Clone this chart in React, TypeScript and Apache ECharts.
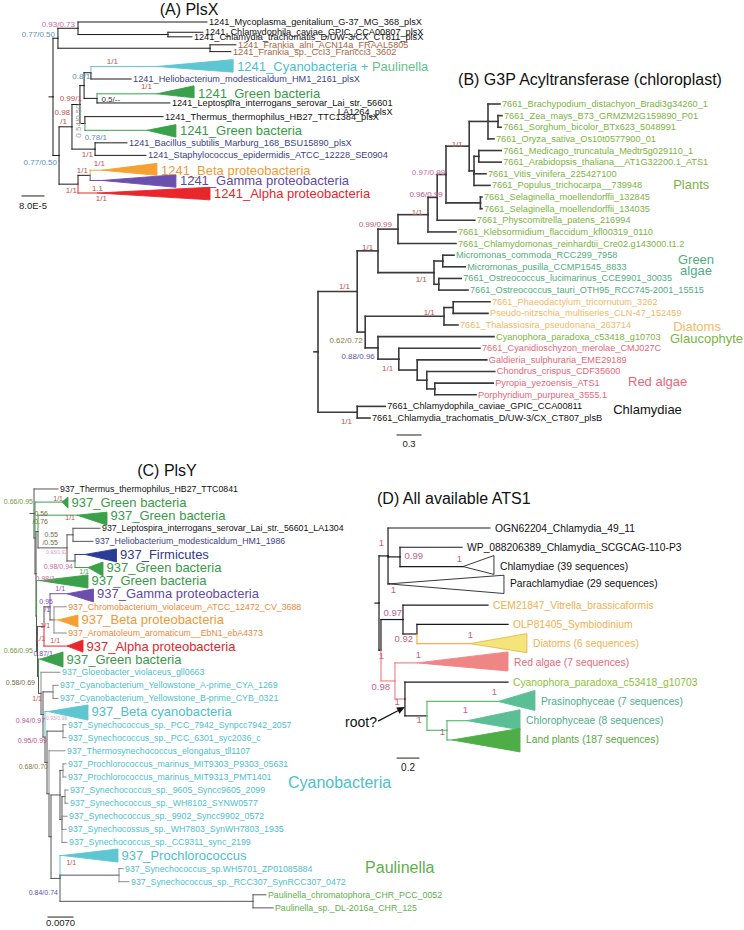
import React, { useEffect, useRef } from "react";
import * as echarts from "echarts";

const FONT = '"Liberation Sans", Arial, Helvetica, sans-serif';

type TNode = { name?: string; d: number; row?: number; kids?: TNode[]; g?: string; tri?: number[]; name2?: string; g2?: string };
const N = (d: number, kids: TNode[], g?: string): TNode => ({ d, kids, g });
const L = (name: string, d: number, row: number, g?: string): TNode => ({ name, d, row, g });
const T = (name: string, d: number, row: number, tri: number[], g?: string): TNode => ({ name, d, row, tri, g });

// ---------- (A) PlsX : depth in 1e-5 subst./site, row = leaf slot ----------
const plsxTree: TNode = N(0, [
  N(1.8, [
    N(9.1, [
      L("1241_Mycoplasma_genitalium_G-37_MG_368_plsX", 56.0, 0),
      N(41.8, [
        L("1241_Chlamydophila_caviae_GPIC_CCA00807_plsX", 54.5, 0.9),
        L("1241_Chlamydia_trachomatis_D/UW-3/CX_CT811_plsX", 50.5, 1.3),
      ]),
    ]),
    N(57.1, [
      L("1241_Frankia_alni_ACN14a_FRAAL5805", 66.5, 2.0, "brown"),
      L("1241_Frankia_sp._CcI3_Francci3_3602", 64.7, 2.6, "brown"),
    ]),
  ]),
  N(2.2, [
    N(6.9, [
      N(9.8, [
        N(11.3, [
          N(13.8, [
            { ...T("1241_Cyanobacteria + |Paulinella", 37.8, 3.9, [65.5, -0.6, 0.5], "cyan"), g2: "paulA" },
            L("1241_Heliobacterium_modesticaldum_HM1_2161_plsX", 28.4, 5.0, "navyT"),
          ]),
          N(16.0, [
            T("1241_Green bacteria", 37.8, 6.3, [51.3, -0.7, 0.35], "green"),
            { ...L("1241_Leptospira_interrogans_serovar_Lai_str._56601", 42.5, 7.1), name2: "LA1264_plsX" },
          ]),
        ]),
        N(11.6, [
          L("1241_Thermus_thermophilus_HB27_TTC1384_plsX", 40.0, 8.3),
          T("1241_Green bacteria", 34.2, 9.5, [44.7, -0.5, 0.6], "green"),
        ]),
      ]),
      N(15.3, [
        L("1241_Bacillus_subtilis_Marburg_168_BSU15890_plsX", 26.9, 10.6, "navyT"),
        L("1241_Staphylococcus_epidermidis_ATCC_12228_SE0904", 33.8, 11.7, "navyT"),
      ]),
    ]),
    N(9.1, [
      N(13.5, [
        T("1241_Beta proteobacteria", 17.8, 13.0, [37.8, -0.6, 0.45], "orange"),
        T("1241_Gamma proteobacteria", 17.8, 13.9, [44.7, -0.5, 0.6], "purple"),
      ]),
      T("1241_Alpha proteobacteria", 16.0, 15.0, [57.1, -0.5, 0.6], "red"),
    ]),
  ]),
]);

const plsxSupport: any[] = [
  ["0.93/0.73", 8.0, 0.18, "pink"],
  ["0.77/0.50", 0.73, 1.14, "blue"],
  ["1/1", 23.6, 3.5, "red"],
  ["0.8/1", 13.5, 4.82, "blue"],
  ["1/1", 36.0, 5.7, "red"],
  ["0.99/1", 10.5, 6.75, "red"],
  ["0.5/--", 24.4, 6.84, "dark"],
  ["0.98", 6.2, 7.98, "red"],
  ["/1", 5.1, 8.77, "red"],
  ["0.54/0.50", 9.1, 8.68, "gray", 90],
  ["0.78/1", 19.6, 10.1, "blue"],
  ["1/1", 14.5, 11.6, "red"],
  ["0.77/0.50", 1.45, 12.3, "blue"],
  ["1/1", 12.7, 13.0, "red"],
  ["1/1", 18.9, 12.4, "red"],
  ["1.1", 18.2, 14.6, "red"],
  ["1/1", 8.7, 14.8, "red"],
  ["1/1", 19.6, 15.5, "red"],
];
const plsxScale = { value: 8, label: "8.0E-5", at: [-11.27, 15.26], textRow: 16.14 };

// ---------- (B) G3P acyltransferase : depth in subst./site ----------
const g3pTree: TNode = N(0, [
  N(0.49, [
    N(0.75, [
      N(1.0, [
        N(1.375, [
          N(1.49, [
            N(1.6, [
              N(1.89, [
                N(2.125, [
                  L("7661_Brachypodium_distachyon_Bradi3g34260_1", 2.275, 0, "plant"),
                  N(2.25, [
                    L("7661_Zea_mays_B73_GRMZM2G159890_P01", 2.3, 1, "plant"),
                    L("7661_Sorghum_bicolor_BTx623_5048991", 2.29, 2, "plant"),
                  ]),
                  L("7661_Oryza_sativa_Os10t0577900_01", 2.2, 3, "plant"),
                ]),
                N(1.95, [
                  N(2.01, [
                    L("7661_Medicago_truncatula_Medtr5g029110_1", 2.29, 4, "plant"),
                    L("7661_Arabidopsis_thaliana__AT1G32200.1_ATS1", 2.29, 5, "plant"),
                  ]),
                  L("7661_Vitis_vinifera_225427100", 2.1, 6, "plant"),
                  L("7661_Populus_trichocarpa__739948", 2.15, 7, "plant"),
                ]),
              ]),
              N(2.03, [
                L("7661_Selaginella_moellendorffii_132845", 2.05, 8, "plant"),
                L("7661_Selaginella_moellendorffii_134035", 2.05, 9, "plant"),
              ]),
            ]),
            L("7661_Physcomitrella_patens_216994", 1.96, 10, "plant"),
          ]),
          L("7661_Klebsormidium_flaccidum_kfl00319_0110", 1.725, 11, "plant"),
        ]),
        L("7661_Chlamydomonas_reinhardtii_Cre02.g143000.t1.2", 1.725, 12, "plant"),
      ]),
      N(1.45, [
        N(1.56, [
          L("Micromonas_commoda_RCC299_7958", 1.7, 13, "pras"),
          L("Micromonas_pusilla_CCMP1545_8833", 1.84, 14, "pras"),
        ]),
        N(1.51, [
          L("7661_Ostreococcus_lucimarinus_CCE9901_30035", 1.79, 15, "pras"),
          L("7661_Ostreococcus_tauri_OTH95_RCC745-2001_15515", 1.875, 16, "pras"),
        ]),
      ]),
    ]),
    N(0.59, [
      N(1.575, [
        N(1.69, [
          L("7661_Phaeodactylum_tricornutum_3262", 2.15, 17, "diat"),
          L("Pseudo-nitzschia_multiseries_CLN-47_152459", 2.125, 18, "diat"),
        ]),
        L("7661_Thalassiosira_pseudonana_263714", 1.75, 19, "diat"),
      ]),
      N(0.75, [
        L("Cyanophora_paradoxa_c53418_g10703", 2.2, 20, "plant"),
        N(1.01, [
          L("7661_Cyanidioschyzon_merolae_CMJ027C", 2.025, 21, "redB"),
          N(1.24, [
            L("Galdieria_sulphuraria_EME29189", 2.11, 22, "redB"),
            N(1.36, [
              L("Chondrus_crispus_CDF35600", 2.21, 23, "redB"),
              N(1.46, [
                L("Pyropia_yezoensis_ATS1", 2.19, 24, "redB"),
                L("Porphyridium_purpurea_3555.1", 1.975, 25, "redB"),
              ]),
            ]),
          ]),
        ]),
      ]),
    ]),
  ]),
  N(0.49, [
    L("7661_Chlamydophila_caviae_GPIC_CCA00811", 0.84, 26),
    L("7661_Chlamydia_trachomatis_D/UW-3/CX_CT807_plsB", 0.65, 27),
  ]),
]);

const g3pSupport: any[] = [
  ["1/1", 1.81, 3.44, "red"],
  ["0.97/0.99", 1.59, 5.85, "pink"],
  ["0.96/0.99", 1.56, 7.74, "mag"],
  ["1/1", 1.31, 9.29, "red"],
  ["0.99/0.99", 0.925, 10.4, "rose"],
  ["1/1", 0.69, 12.3, "red"],
  ["1/1", 1.36, 15.1, "red"],
  ["1/1", 0.4, 15.7, "red"],
  ["1/1", 1.46, 17.97, "red"],
  ["0.62/0.72", 0.56, 20.3, "olive"],
  ["0.88/0.96", 0.71, 21.75, "violet"],
  ["1/1", 0.94, 22.7, "red"],
  ["1/1", 0.425, 27.34, "red"],
];
const g3pGroups: any[] = [
  ["Plants", 4.44, 6.96, "plant"],
  ["Green\nalgae", 4.725, 13.85, "pras", "center"],
  ["Diatoms", 4.44, 19.17, "diat"],
  ["Glaucophyte", 4.4, 20.2, "plant"],
  ["Red algae", 3.875, 23.9, "redB"],
  ["Chlamydiae", 3.69, 26.3, "black"],
];
const g3pScale = { value: 0.3, label: "0.3", at: [0.9875, 28.46], textRow: 29.2 };

// ---------- (C) PlsY : depth in 1e-3 subst./site ----------
const plsyTree: TNode = N(0, [
  L("937_Thermus_thermophilus_HB27_TTC0841", 6.72, 0),
  N(0.28, [
    T("937_Green bacteria", 7.84, 1, [9.52, -0.38, 0.46], "green"),
    N(0.56, [
      N(1.12, [
        T("937_Green bacteria", 12.04, 2, [20.44, -0.23, 0.76], "green"),
        N(9.24, [
          N(10.92, [
            L("937_Leptospira_interrogans_serovar_Lai_str._56601_LA1304", 18.48, 3),
            L("937_Heliobacterium_modesticaldum_HM1_1986", 16.52, 4, "navyT"),
          ]),
          N(11.48, [
            T("937_Firmicutes", 14.28, 5, [23.1, -0.42, 0.57], "navy"),
            T("937_Green bacteria", 15.12, 6, [19.32, -0.42, 0.65], "green"),
          ]),
        ]),
      ]),
      N(0.7, [
        T("937_Green bacteria", 1.68, 7, [15.12, -0.43, 0.56], "green"),
        N(0.98, [
          N(2.8, [
            N(4.48, [
              T("937_Gamma proteobacteria", 9.24, 8, [16.66, -0.36, 0.63], "purple"),
              N(5.6, [
                L("937_Chromobacterium_violaceum_ATCC_12472_CV_3688", 9.0, 9, "chromo"),
                T("937_Beta proteobacteria", 6.72, 10, [12.32, -0.37, 0.54], "orange"),
                L("937_Aromatoleum_aromaticum__EbN1_ebA4373", 9.0, 11, "chromo"),
              ]),
            ]),
            T("937_Alpha proteobacteria", 9.24, 12, [13.72, -0.46, 0.46], "red"),
          ]),
          N(1.26, [
            T("937_Green bacteria", 1.68, 13, [8.12, -0.55, 0.6], "green"),
            N(1.96, [
              L("937_Gloeobacter_violaceus_gll0663", 7.28, 14, "cyanL"),
              N(2.52, [
                N(5.32, [
                  L("937_Cyanobacterium_Yellowstone_A-prime_CYA_1269", 6.72, 15, "cyanL"),
                  L("937_Cyanobacterium_Yellowstone_B-prime_CYB_0321", 6.72, 16, "cyanL"),
                ]),
                N(3.08, [
                  T("937_Beta cyanobacteria", 3.92, 17, [15.12, -0.5, 0.65], "cyan"),
                  N(3.64, [
                    N(8.12, [
                      L("937_Synechococcus_sp._PCC_7942_Synpcc7942_2057", 8.96, 18, "cyanL"),
                      L("937_Synechococcus_sp._PCC_6301_syc2036_c", 8.96, 19, "cyanL"),
                    ]),
                    N(4.2, [
                      L("937_Thermosynechococcus_elongatus_tll1107", 8.68, 20, "cyanL"),
                      N(4.76, [
                        N(7.28, [
                          N(8.12, [
                            L("937_Prochlorococcus_marinus_MIT9303_P9303_05631", 8.96, 21, "cyanL"),
                            L("937_Prochlorococcus_marinus_MIT9313_PMT1401", 8.96, 22, "cyanL"),
                          ]),
                          N(7.84, [
                            N(8.68, [
                              L("937_Synechococcus_sp._9605_Syncc9605_2099", 9.52, 23, "cyanL"),
                              L("937_Synechococcus_sp._WH8102_SYNW0577", 9.52, 24, "cyanL"),
                            ]),
                            L("937_Synechococcus_sp._9902_Syncc9902_0572", 9.24, 25, "cyanL"),
                            L("937_Synechocossus_sp._WH7803_SynWH7803_1935", 8.96, 26, "cyanL"),
                            L("937_Synechococcus_sp._CC9311_sync_2199", 9.24, 27, "cyanL"),
                          ]),
                        ]),
                        N(7.28, [
                          T("937_Prochlorococcus", 7.84, 28, [23.52, -0.5, 0.5], "cyan"),
                          N(23.8, [
                            L("937_Synechococcus_sp.WH5701_ZP01085884", 24.92, 29, "cyanL"),
                            L("937_Synechococcus_sp._RCC307_SynRCC307_0472", 26.6, 30, "cyanL"),
                          ]),
                          N(61.32, [
                            L("Paulinella_chromatophora_CHR_PCC_0052", 64.96, 31, "paul"),
                            L("Paulinella_sp._DL-2016a_CHR_125", 66.92, 32, "paul"),
                          ]),
                        ]),
                      ]),
                    ]),
                  ]),
                ]),
              ]),
            ]),
          ]),
        ]),
      ]),
    ]),
  ]),
]);

const plsySupport: any[] = [
  ["1/1", 8.12, 0.76, "red"],
  ["0.66/0.95", -0.28, 0.99, "green"],
  ["1/1", 11.48, 2.2, "red"],
  ["0.56", 3.92, 1.9, "brown"],
  ["/0.76", 3.92, 2.5, "brown"],
  ["0.55", 6.72, 3.5, "brown"],
  ["/0.55", 6.72, 4.1, "brown"],
  ["0.93/0.92", 9.24, 4.8, "lpink"],
  ["0.98/0.94", 10.9, 5.9, "pink"],
  ["1/1", 15.4, 6.3, "grn"],
  ["0.98/1", 5.9, 6.8, "pink"],
  ["1/1", 8.7, 7.6, "purple"],
  ["0.95", 5.3, 8.6, "purple"],
  ["/1", 4.5, 9.2, "purple"],
  ["1/1", 4.5, 10.4, "red"],
  ["1/1", 7.3, 11.6, "red"],
  ["1/1", 3.1, 11.4, "red"],
  ["0.66/0.95", -0.28, 12.3, "green"],
  ["0.87/1", 5.3, 12.6, "violet"],
  ["0.58/0.69", 0.28, 14.8, "brown"],
  ["1/1", 2.24, 16.0, "red"],
  ["0.94/0.97", 3.1, 17.7, "mag"],
  ["0.93/0.99", 9.24, 17.5, "lpink"],
  ["0.95/0.99", 3.64, 19.25, "mag"],
  ["0.68/0.70", 3.9, 21.2, "olive"],
  ["1/1", 11.8, 28.5, "red"],
  ["0.84/0.74", 6.7, 30.8, "violet"],
];
const plsyGroups: any[] = [
  ["Cyanobacteria", 71.1, 22.4, "cyanL"],
  ["Paulinella", 92.7, 28.95, "paul"],
];
const plsyScale = { value: 7, label: "0.0070", at: [3.92, 32.7], textRow: 33.15 };

// ---------- (D) All available ATS1 : depth in subst./site ----------
const ats1Tree: TNode = N(0, [
  N(0.082, [
    L("OGN62204_Chlamydia_49_11", 1.009, 0),
    N(0.191, [
      L("WP_088206389_Chlamydia_SCGCAG-110-P3", 0.755, 1),
      T("Chlamydiae (39 sequences)", 0.764, 2, [1.045, -0.57, 0.41], "chlamD"),
    ]),
    T("Parachlamydiae (29 sequences)", 0.091, 2.9, [1.136, -0.45, 0.5], "chlamD"),
  ]),
  N(0.018, [
    N(0.218, [
      L("CEM21847_Vitrella_brassicaformis", 0.991, 4, "orangeD"),
      N(0.345, [
        L("OLP81405_Symbiodinium", 1.173, 5, "orangeD"),
        T("Diatoms (6 sequences)", 0.827, 6, [1.345, -0.52, 0.47], "diatD"),
      ]),
    ]),
    N(0.145, [
      T("Red algae (7 sequences)", 0.345, 7, [1.173, -0.57, 0.42], "redD"),
      N(0.236, [
        L("Cyanophora_paradoxa_c53418_g10703", 1.173, 8, "cyanoD"),
        N(0.436, [
          T("Prasinophyceae (7 sequences)", 1.082, 9, [1.418, -0.57, 0.47], "prasD"),
          N(0.618, [
            T("Chlorophyceae (8 sequences)", 0.8, 10, [1.282, -0.57, 0.47], "prasD"),
            T("Land plants (187 sequences)", 0.664, 11, [1.282, -0.6, 0.62], "landD"),
          ], "greenD"),
        ]),
      ], "pinkD"),
    ], "redD"),
  ]),
]);

const ats1Support: any[] = [
  ["1", 0.045, 0.73, "pinkD"],
  ["0.99", 0.4, 1.45, "pinkD"],
  ["1", 0.755, 1.56, "pinkD"],
  ["1", 0.155, 3.2, "pinkD"],
  ["0.97", 0.209, 4.36, "pinkD"],
  ["0.92", 0.309, 5.76, "pinkD"],
  ["1", 0.855, 5.55, "pinkD"],
  ["1", 0.382, 6.54, "pinkD"],
  ["1", 0.045, 6.6, "pinkD"],
  ["0.98", 0.1, 8.2, "pinkD"],
  ["1", 0.19, 8.98, "pinkD"],
  ["1", 1.073, 8.5, "pinkD"],
  ["1", 0.809, 9.44, "pinkD"],
  ["1", 0.39, 9.96, "pinkD"],
  ["1", 0.6, 10.55, "pinkD"],
];
const ats1Root = { label: "root?", at: [-0.018, 10.06], arrowFrom: [-0.009, 10.02], arrowTo: [0.236, 9.29] };
const ats1Scale = { value: 0.2, label: "0.2", at: [0.164, 11.94], textRow: 12.45 };

const titles = ["(A) PlsX", "(B) G3P Acyltransferase (chloroplast)", "(C) PlsY", "(D) All available ATS1"];

// ---------- styles ----------
const GROUPS: Record<string, any> = {
  black: { text: "#111" },
  brown: { text: "#a8673f" },
  cyan: { line: "#5ec6d1", text: "#4dbfcb", fill: "#5ec6d1" },
  paulA: { text: "#66c08e" },
  navyT: { text: "#3b3f85" },
  green: { line: "#3aa14a", text: "#3a9a48", fill: "#3aa14a" },
  orange: { line: "#f4a132", text: "#f09a35", fill: "#f4a132" },
  purple: { line: "#6b4fae", text: "#5f4aa6", fill: "#6b4fae" },
  red: { line: "#e8262b", text: "#e4262b", fill: "#e8262b" },
  navy: { line: "#2b3c96", text: "#2f3a8c", fill: "#2b3c96" },
  chromo: { line: "#8a8a8a", text: "#ec8a3c" },
  cyanL: { line: "#8a8a8a", text: "#4dbfcb" },
  paul: { line: "#555", text: "#5fb04c" },
  plant: { text: "#7cb442" },
  pras: { text: "#50ad7e" },
  diat: { text: "#f5b865" },
  redB: { text: "#e6677a" },
  chlamD: { fill: "#ffffff", stroke: "#222", text: "#111" },
  orangeD: { text: "#f2b04e" },
  diatD: { line: "#f2b04e", text: "#f2b04e", fill: "#f3e47c", stroke: "#e9b84a" },
  redD: { line: "#f08585", text: "#e66a78", fill: "#f08585" },
  pinkD: { line: "#f08585" },
  cyanoD: { text: "#8cbf3c" },
  greenD: { line: "#5cbf6c" },
  prasD: { line: "#5cbf6c", text: "#4bb088", fill: "#5bbf96" },
  landD: { line: "#5cbf6c", text: "#58a93c", fill: "#4fad47" },
};
const SUP: Record<string, string> = {
  pink: "#c8699d", blue: "#5b8fb0", red: "#c0504d", dark: "#333", gray: "#9a9a9a", olive: "#8a7d3c",
  violet: "#5a55b0", mag: "#b55590", rose: "#c05a75", green: "#6f9a3c", brown: "#7a6a4a",
  lpink: "#d49ac0", purple: "#8a4ab0", grn: "#3aa14a", pinkD: "#c8608a",
};

const PANELS: any[] = [
  { tree: plsxTree, support: plsxSupport, groups: [], scale: plsxScale,
    grid: { left: 3.5, top: 4.9, width: 330, height: 210.9 }, xr: [-18, 102], yr: [-1.5, 17],
    line: "#1a1a1a", lw: 1, leafSize: 9.2, triSize: 13, supSize: 8, groupSize: 13, scaleSize: 9.5, leafGap: 2, triGap: 4 },
  { tree: g3pTree, support: g3pSupport, groups: g3pGroups, scale: g3pScale,
    grid: { left: 278, top: 92.37, width: 440, height: 360.53 }, xr: [-0.5, 5], yr: [-1, 30],
    line: "#3a3a3a", lw: 1.6, leafSize: 9.2, triSize: 13, supSize: 8, groupSize: 13, scaleSize: 9.5, leafGap: 2, triGap: 4 },
  { tree: plsyTree, support: plsySupport, groups: plsyGroups, scale: plsyScale,
    grid: { left: 1.857, top: 475.91, width: 389.29, height: 451.6 }, xr: [-9, 100], yr: [-1, 33.5],
    line: "#555", lw: 1, leafSize: 8.8, triSize: 13, supSize: 7, groupSize: 16, scaleSize: 9.5, leafGap: 2, triGap: 3.5 },
  { tree: ats1Tree, support: ats1Support, groups: [], scale: ats1Scale, root: ats1Root,
    grid: { left: 346, top: 508.73, width: 396, height: 269.78 }, xr: [-0.3, 3.3], yr: [-1, 13],
    line: "#1a1a1a", lw: 1.2, leafSize: 10.3, triSize: 10.3, supSize: 9.5, groupSize: 13, scaleSize: 10, leafGap: 5, triGap: 6 },
];

function computeRows(n: TNode): number {
  if (n.kids && n.kids.length) {
    const rs = n.kids.map(computeRows);
    n.row = (rs[0] + rs[rs.length - 1]) / 2;
  }
  return n.row as number;
}

function buildPrims(P: any) {
  const polys: any[] = [], lines: any[] = [], texts: any[] = [];
  computeRows(P.tree);
  const lineCol = (n: TNode) => (n.g && GROUPS[n.g] && GROUPS[n.g].line) || P.line;
  const walk = (n: TNode, pd?: number) => {
    if (pd === undefined) lines.push({ t: "line", a: [n.d, n.row], b: [n.d, n.row], bdx: -4, c: P.line });
    else lines.push({ t: "line", a: [pd, n.row], b: [n.d, n.row], c: lineCol(n) });
    if (n.kids) {
      n.kids.forEach((k) => {
        lines.push({ t: "line", a: [n.d, n.row], b: [n.d, k.row], c: lineCol(k) });
        walk(k, n.d);
      });
      return;
    }
    const gs = (n.g && GROUPS[n.g]) || {};
    const col = gs.text || "#111";
    if (n.tri) {
      polys.push({ t: "poly", pts: [[n.d, n.row], [n.tri[0], (n.row as number) + n.tri[1]], [n.tri[0], (n.row as number) + n.tri[2]]],
        fill: gs.fill || "#fff", stroke: gs.stroke || gs.fill || "#222" });
      texts.push({ t: "text", a: [n.tri[0], n.row], dx: P.triGap, text: n.name, color: col, size: P.triSize, align: "left", g2: n.g2 });
    } else {
      texts.push({ t: "text", a: [n.d, n.row], dx: P.leafGap, text: n.name, color: col, size: P.leafSize, align: "left", name2: n.name2 });
    }
  };
  walk(P.tree);
  P.support.forEach((s: any[]) => {
    texts.push({ t: "text", a: [s[1], s[2]], text: s[0], color: SUP[s[3]], size: s[3] === "lpink" ? P.supSize * 0.72 : P.supSize,
      align: s[4] ? "center" : "right", rot: s[4] || 0 });
  });
  P.groups.forEach((g: any[]) => {
    texts.push({ t: "text", a: [g[1], g[2]], text: g[0], color: (GROUPS[g[3]] || {}).text || "#111", size: P.groupSize, align: g[4] || "left", lh: 11 });
  });
  const sc = P.scale;
  lines.push({ t: "line", a: sc.at, b: [sc.at[0] + sc.value, sc.at[1]], c: "#222", w: 1 });
  texts.push({ t: "text", a: [sc.at[0] + sc.value / 2, sc.textRow], text: sc.label, color: "#222", size: P.scaleSize, align: "center" });
  if (P.root) {
    texts.push({ t: "text", a: P.root.at, text: P.root.label, color: "#111", size: 14, align: "right" });
    lines.push({ t: "arrow", a: P.root.arrowFrom, b: P.root.arrowTo, c: "#111" });
  }
  return [...polys, ...lines, ...texts];
}

function makeRender(prims: any[], P: any) {
  return (params: any, api: any) => {
    const p = prims[params.dataIndex];
    if (!p) return null;
    if (p.t === "line") {
      const A = api.coord(p.a), B = api.coord(p.b);
      return { type: "line", silent: true, shape: { x1: A[0], y1: A[1], x2: B[0] + (p.bdx || 0), y2: B[1] },
        style: { stroke: p.c, lineWidth: p.w || P.lw, lineCap: "square" } };
    }
    if (p.t === "arrow") {
      const A = api.coord(p.a), B = api.coord(p.b);
      const ang = Math.atan2(B[1] - A[1], B[0] - A[0]);
      const hl = 8, hw = 3.5;
      const bx = B[0] - hl * Math.cos(ang), by = B[1] - hl * Math.sin(ang);
      return { type: "group", children: [
        { type: "line", shape: { x1: A[0], y1: A[1], x2: bx, y2: by }, style: { stroke: p.c, lineWidth: 1.3 } },
        { type: "polygon", shape: { points: [[B[0], B[1]], [bx - hw * Math.sin(ang), by + hw * Math.cos(ang)], [bx + hw * Math.sin(ang), by - hw * Math.cos(ang)]] },
          style: { fill: p.c } },
      ] };
    }
    if (p.t === "poly") {
      return { type: "polygon", silent: true, shape: { points: p.pts.map((q: number[]) => api.coord(q)) },
        style: { fill: p.fill, stroke: p.stroke, lineWidth: 0.9 } };
    }
    const A = api.coord(p.a);
    const base: any = { fill: p.color, fontSize: p.size, fontFamily: FONT, textAlign: p.align, textVerticalAlign: "middle" };
    let dy = 0;
    if (p.name2) {
      const lh = 9;
      base.text = `{a|${p.text}}\n{b|${p.name2}}`;
      base.rich = {
        a: { fill: p.color, fontSize: p.size, fontFamily: FONT, lineHeight: lh },
        b: { fill: p.color, fontSize: p.size, fontFamily: FONT, lineHeight: lh, align: "right" },
      };
      base.textVerticalAlign = "top";
      dy = -lh / 2;
    } else if (p.text.indexOf("|") >= 0) {
      const parts = p.text.split("|");
      base.text = `{a|${parts[0]}}{b|${parts[1]}}`;
      base.rich = {
        a: { fill: p.color, fontSize: p.size, fontFamily: FONT },
        b: { fill: (GROUPS[p.g2] || {}).text || p.color, fontSize: p.size, fontFamily: FONT },
      };
    } else {
      base.text = p.text;
      if (p.lh) base.lineHeight = p.lh;
    }
    return { type: "text", silent: true, x: A[0] + (p.dx || 0), y: A[1] + dy, rotation: p.rot ? (p.rot * Math.PI) / 180 : 0, style: base };
  };
}

export default function App() {
  const ref = useRef<HTMLDivElement>(null);
  useEffect(() => {
    if (!ref.current) return;
    const chart = echarts.init(ref.current, null, { renderer: "svg" });
    const grids: any[] = [], xAxes: any[] = [], yAxes: any[] = [], series: any[] = [];
    PANELS.forEach((P, i) => {
      grids.push({ ...P.grid, containLabel: false, outerBoundsMode: "none", show: false });
      xAxes.push({ type: "value", gridIndex: i, min: P.xr[0], max: P.xr[1], show: false });
      yAxes.push({ type: "value", gridIndex: i, min: P.yr[0], max: P.yr[1], inverse: true, show: false });
      const prims = buildPrims(P);
      series.push({
        type: "custom", coordinateSystem: "cartesian2d", xAxisIndex: i, yAxisIndex: i, clip: false, silent: true,
        data: prims.map((p: any) => (p.a ? [p.a[0], p.a[1]] : [p.pts[0][0], p.pts[0][1]])),
        renderItem: makeRender(prims, P),
      });
    });
    const tStyle = (text: string) => ({ text, fill: "#111", fontSize: 16, fontFamily: FONT, textVerticalAlign: "middle" });
    chart.setOption({
      animation: false,
      backgroundColor: "#ffffff",
      grid: grids, xAxis: xAxes, yAxis: yAxes, series,
      graphic: [
        { type: "text", x: 189, y: 9, style: { ...tStyle(titles[0]), textAlign: "center" } },
        { type: "text", x: 590, y: 79, style: { ...tStyle(titles[1]), textAlign: "center" } },
        { type: "text", x: 167, y: 470, style: { ...tStyle(titles[2]), textAlign: "center" } },
        { type: "text", x: 377, y: 498, style: { ...tStyle(titles[3]), textAlign: "left" } },
      ],
    });
    return () => chart.dispose();
  }, []);
  return <div ref={ref} style={{ position: "absolute", left: 0, top: 0, width: 744, height: 930 }} />;
}
